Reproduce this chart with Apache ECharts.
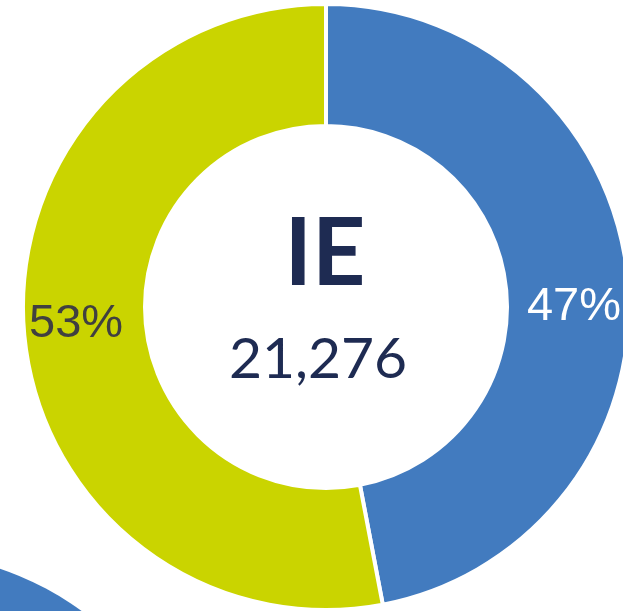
<!DOCTYPE html>
<html>
<head>
<meta charset="utf-8">
<script src="https://cdn.jsdelivr.net/npm/echarts@6.0.0/dist/echarts.min.js"></script>
<style>
  html, body { margin: 0; padding: 0; background: #fff; }
  #chart { width: 623px; height: 611px; }
</style>
</head>
<body>
<div id="chart"></div>
<script>
// 数据
const categories = ['Blue', 'Green'];
const shares = [47, 53];
const colors = ['#427bbf', '#cad400'];
const labelColors = ['#ffffff', '#404040'];
const centerTitle = 'IE';
const centerTotal = '21,276';
// 左下角露出的另一个环形图的一角
const nextShares = [100];

const chart = echarts.init(document.getElementById('chart'));

const mainData = categories.map((name, i) => ({
  name: name,
  value: shares[i],
  itemStyle: { color: colors[i] },
  label: { color: labelColors[i] }
}));

// 标签微调（Excel 的标签位置与 ECharts 默认的不完全一样）
const labelShift = [[4, 23], [-6, -6]];

chart.setOption({
  animation: false,
  series: [
    {
      type: 'pie',
      center: [-96, 854],
      radius: [0, 301],
      silent: true,
      label: { show: false },
      itemStyle: { color: '#427bbf' },
      data: nextShares.map(v => ({ value: v }))
    },
    {
      type: 'pie',
      center: [326, 307],
      radius: [181, 303],
      startAngle: 90,
      clockwise: true,
      silent: true,
      itemStyle: { borderColor: '#ffffff', borderWidth: 4 },
      label: {
        show: true,
        position: 'inside',
        formatter: p => p.value + '%',
        fontFamily: 'Liberation Sans',
        fontSize: 47
      },
      labelLine: { show: false },
      labelLayout: params => ({
        dx: labelShift[params.dataIndex][0],
        dy: labelShift[params.dataIndex][1]
      }),
      data: mainData
    }
  ],
  graphic: [
    {
      type: 'text',
      x: 325,
      y: 255,
      style: {
        text: centerTitle,
        fontFamily: 'Lato',
        fontWeight: 'bold',
        fontSize: 93,
        fill: '#1e2b52',
        align: 'center',
        verticalAlign: 'middle'
      }
    },
    {
      type: 'text',
      x: 318,
      y: 360,
      style: {
        text: centerTotal,
        fontFamily: 'Lato',
        fontSize: 57,
        fill: '#1e2b52',
        align: 'center',
        verticalAlign: 'middle'
      }
    }
  ]
});
</script>
</body>
</html>
